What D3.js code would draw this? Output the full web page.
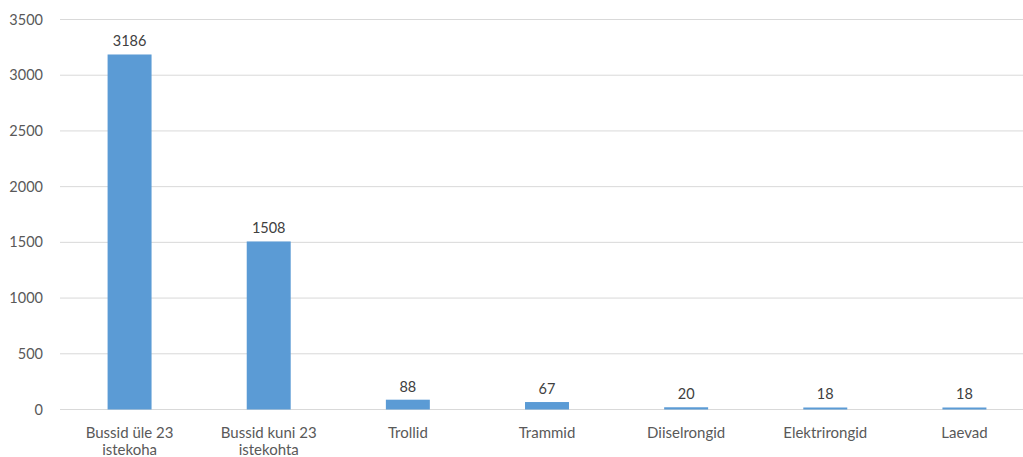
<!DOCTYPE html>
<html>
<head>
<meta charset="utf-8">
<script src="https://cdn.jsdelivr.net/npm/d3@7"></script>
<style>
  html, body { margin: 0; padding: 0; background: #ffffff; }
  svg { display: block; font-family: Lato, "Open Sans", sans-serif; }
</style>
</head>
<body>
<svg id="chart" width="1023" height="457"></svg>
<script>
// Vehicle counts by type
const categories = ["Bussid üle 23 istekoha", "Bussid kuni 23 istekohta", "Trollid", "Trammid", "Diiselrongid", "Elektrirongid", "Laevad"];
const values = [3186, 1508, 88, 67, 20, 18, 18];
const yTicks = [0, 500, 1000, 1500, 2000, 2500, 3000, 3500];

const svg = d3.select("#chart");
const plotLeft = 60, plotRight = 1034, plotTop = 19.5, plotBottom = 409.5;

const x = d3.scaleBand()
  .domain(categories)
  .range([plotLeft, plotRight])
  .paddingInner(0.684)
  .paddingOuter(0.342);

const y = d3.scaleLinear()
  .domain([0, 3500])
  .range([plotBottom, plotTop]);

// horizontal gridlines
svg.append("g")
  .selectAll("line")
  .data(yTicks)
  .join("line")
  .attr("x1", plotLeft)
  .attr("x2", plotRight)
  .attr("y1", d => y(d))
  .attr("y2", d => y(d))
  .attr("stroke", "#d9d9d9")
  .attr("stroke-width", 1);

// y axis labels
const yAxis = d3.axisLeft(y).tickValues(yTicks).tickSize(0).tickPadding(0).tickFormat(d3.format("d"));
const gy = svg.append("g").attr("transform", `translate(${plotLeft - 17},0)`).call(yAxis);
gy.select(".domain").remove();
gy.selectAll("text")
  .attr("fill", "#595959")
  .style("font-size", "14.5px")
  .style("font-family", "Lato, 'Open Sans', sans-serif");

// bars
svg.append("g")
  .selectAll("rect")
  .data(values)
  .join("rect")
  .attr("x", (d, i) => x(categories[i]))
  .attr("width", x.bandwidth())
  .attr("y", d => y(d))
  .attr("height", d => y(0) - y(d))
  .attr("fill", "#5b9bd5");

// value labels
svg.append("g")
  .selectAll("text")
  .data(values)
  .join("text")
  .attr("x", (d, i) => x(categories[i]) + x.bandwidth() / 2)
  .attr("y", d => y(d) - 8)
  .attr("text-anchor", "middle")
  .attr("fill", "#404040")
  .style("font-size", "14.5px")
  .text(d => d);

// category labels, wrapped to fit the band
const xAxis = d3.axisBottom(x).tickSize(0).tickPadding(0);
const gx = svg.append("g").attr("transform", `translate(0,${plotBottom})`).call(xAxis);
gx.select(".domain").remove();
gx.selectAll("text")
  .attr("fill", "#595959")
  .style("font-size", "15px")
  .style("font-family", "Lato, 'Open Sans', sans-serif")
  .attr("dy", null)
  .attr("y", 0)
  .each(function(d) {
    const t = d3.select(this);
    const words = d.split(" ");
    const maxW = 110;
    t.text(null);
    const lines = [];
    let line = [];
    const probe = t.append("tspan");
    words.forEach(w => {
      line.push(w);
      probe.text(line.join(" "));
      if (probe.node().getComputedTextLength() > maxW && line.length > 1) {
        line.pop();
        lines.push(line.join(" "));
        line = [w];
      }
    });
    lines.push(line.join(" "));
    probe.remove();
    lines.forEach((l, i) => {
      t.append("tspan")
        .attr("x", 0)
        .attr("y", 28 + i * 17.5)
        .text(l);
    });
  });
</script>
</body>
</html>
